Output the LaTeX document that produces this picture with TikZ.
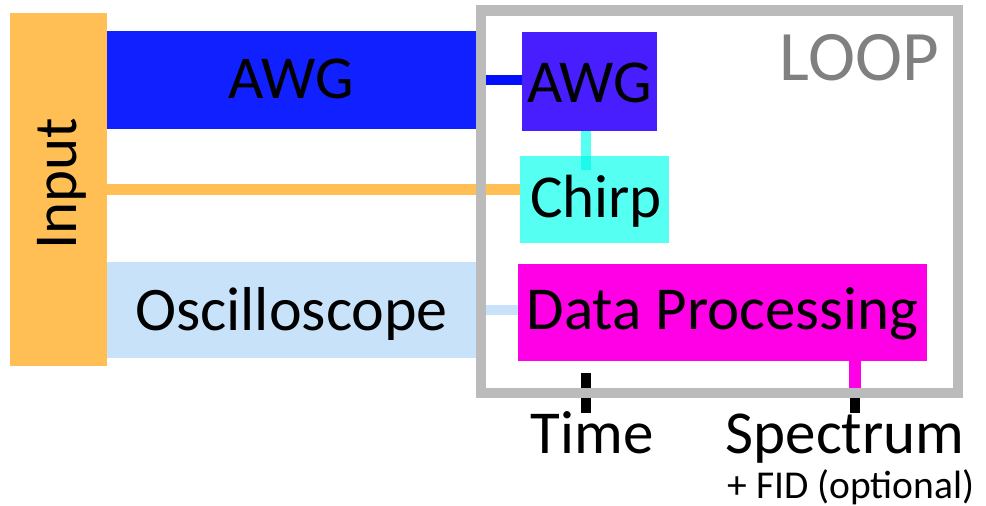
\documentclass[tikz,border=0pt]{standalone}
\usepackage{fontspec}
\setmainfont{Carlito}
\definecolor{inorange}{HTML}{FFBF55}
\definecolor{awgblue}{HTML}{1020FF}
\definecolor{linkblue}{HTML}{0010FF}
\definecolor{awgpurple}{HTML}{481EFF}
\definecolor{chirpcyan}{HTML}{55FFF2}
\definecolor{cyanover}{HTML}{1EFAEA}
\definecolor{dpmag}{HTML}{FF00E6}
\definecolor{osclight}{HTML}{C8E2FA}
\definecolor{loopgray}{HTML}{BBBBBB}
\definecolor{looptext}{HTML}{808080}
\begin{document}
\begin{tikzpicture}[x=1pt,y=-1pt,
  box/.style={draw=none, inner sep=0pt, outer sep=0pt, text depth=0pt, font=\fontsize{61}{72}\selectfont},
  link/.style={line width=10pt},
  ticko/.style={line width=10pt, black},
  lbl/.style={inner sep=0pt, outer sep=0pt, anchor=base, font=\fontsize{61}{72}\selectfont}]
\useasboundingbox (0,0) rectangle (986,506);
% boxes
\node[box, fill=inorange, minimum width=353pt, minimum height=97pt, rotate=90, text height=35pt] (input) at (58.5,189.5) {\hspace{11pt}Input};
\node[box, fill=awgblue, minimum width=369pt, minimum height=98pt, text height=36pt] (awg1) at (291.5,80) {AWG};
\node[box, fill=osclight, minimum width=369pt, minimum height=96pt, text height=40pt, font=\fontsize{62}{72}\selectfont] (osc) at (291.5,310) {Oscilloscope\hspace{8pt}};
\node[box, fill=awgpurple, minimum width=135pt, minimum height=99pt, text height=41pt] (awg2) at (589.5,81.5) {AWG};
\node[box, fill=chirpcyan, minimum width=149pt, minimum height=87pt, text height=35pt] (chirp) at (594.5,199.5) {\hspace{3pt}Chirp};
\node[box, fill=dpmag, minimum width=409pt, minimum height=97pt, text height=33pt] (dp) at (722.5,312.5) {Data Processing};
% connectors
\draw[link, linkblue] (awg1.east) -- (awg1.east -| awg2.west);
\draw[link, inorange, line width=11pt] (input.south) -- (input.south -| chirp.west);
\draw[link, osclight] (osc.east) -- (osc.east -| dp.west);
\draw[link, chirpcyan] ([xshift=-3.5pt]awg2.south) -- ([xshift=-3.5pt]awg2.south |- chirp.north);
\draw[link, cyanover] ([xshift=-3.5pt]awg2.south |- chirp.north) -- ++(0,14);
% outputs
\node[lbl] (time) at (592,453) {Time};
\node[lbl] (spec) at (845,453) {Spectrum};
\node[lbl, font=\fontsize{39.5}{46}\selectfont] (fid) at (851,498) {+ FID (optional)};
\coordinate (tt) at (586,373);
\coordinate (ts) at (855,413);
\draw[ticko] (tt) -- ++(0,40);
\draw[line width=12pt, dpmag] (ts |- dp.south) -- (855,393);
\draw[ticko] (855,393) -- (ts);
% loop frame
\node[draw=loopgray, line width=10.5pt, inner sep=0pt, outer sep=0pt, minimum width=477pt, minimum height=382.5pt] (loop) at (719.5,201.75) {};
\node[inner sep=0pt, anchor=base east, text=looptext, font=\fontsize{71}{84}\selectfont] (looplbl) at (939,80) {LOOP};
\end{tikzpicture}
\end{document}
